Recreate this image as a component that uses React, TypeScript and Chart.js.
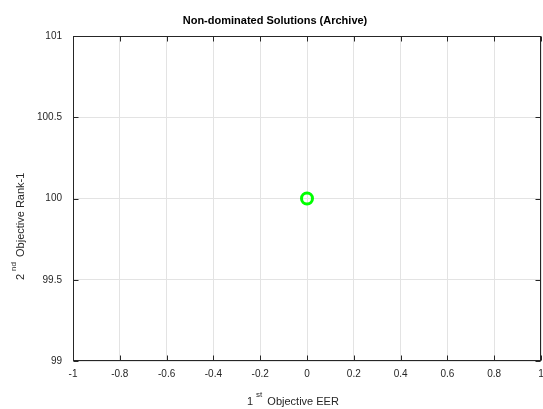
import React, { useEffect, useRef } from "react";
import { Chart, registerables } from "chart.js";

Chart.register(...registerables);

const titleText = "Non-dominated Solutions (Archive)";
const xValues = [0];
const yValues = [100];
const xTickMin = -1;
const xTickMax = 1;
const xTickStep = 0.2;
const yTickMin = 99;
const yTickMax = 101;
const yTickStep = 0.5;

const W = 543;
const H = 409;
const AREA = { left: 73, right: 541, top: 36, bottom: 361 };

const fmt = (v: number) => String(Number(v.toFixed(2)));
const FAMILY = "'Liberation Sans', Arial, sans-serif";

const decorPlugin = {
  id: "decor",
  beforeDraw(chart: any) {
    const ctx = chart.ctx;
    ctx.save();
    ctx.fillStyle = "#ffffff";
    ctx.fillRect(0, 0, chart.width, chart.height);
    ctx.restore();
  },
  afterDraw(chart: any) {
    const ctx = chart.ctx;
    const a = chart.chartArea;
    const xs = chart.scales.x;
    const ys = chart.scales.y;
    ctx.save();
    ctx.strokeStyle = "#262626";
    ctx.lineWidth = 1;
    const L = Math.round(a.left) + 0.5;
    const T = Math.round(a.top) + 0.5;
    const R = Math.round(a.right) - 0.5;
    const B = Math.round(a.bottom) - 0.5;
    ctx.strokeRect(L, T, R - L, B - T);
    const tl = 5;
    ctx.beginPath();
    xs.ticks.forEach((t: any) => {
      const px = Math.round(xs.getPixelForValue(t.value)) + 0.5;
      ctx.moveTo(px, B);
      ctx.lineTo(px, B - tl);
      ctx.moveTo(px, T);
      ctx.lineTo(px, T + tl);
    });
    ys.ticks.forEach((t: any) => {
      const py = Math.round(ys.getPixelForValue(t.value)) + 0.5;
      ctx.moveTo(L, py);
      ctx.lineTo(L + tl, py);
      ctx.moveTo(R, py);
      ctx.lineTo(R - tl, py);
    });
    ctx.stroke();

    // title
    ctx.fillStyle = "#000000";
    ctx.font = "bold 11px " + FAMILY;
    ctx.textAlign = "center";
    ctx.textBaseline = "alphabetic";
    ctx.fillText(titleText, 275, 24);

    const base = "11px " + FAMILY;
    const sup = "8px " + FAMILY;
    ctx.fillStyle = "#262626";
    ctx.textAlign = "left";

    // x label
    let x = 247;
    const by = 405;
    ctx.font = base;
    ctx.fillText("1", x, by);
    x += ctx.measureText("1").width + 3;
    ctx.font = sup;
    ctx.fillText("st", x, by - 8);
    x += ctx.measureText("st").width + 5;
    ctx.font = base;
    ctx.fillText("Objective EER", x, by);

    // y label rotated
    ctx.save();
    ctx.translate(24, 280);
    ctx.rotate(-Math.PI / 2);
    let yx = 0;
    ctx.font = base;
    ctx.fillText("2", yx, 0);
    yx += ctx.measureText("2").width + 3;
    ctx.font = sup;
    ctx.fillText("nd", yx, -8);
    yx += ctx.measureText("nd").width + 5;
    ctx.font = base;
    ctx.fillText("Objective Rank-1", yx, 0);
    ctx.restore();

    ctx.restore();
  },
};

export default function App() {
  const ref = useRef<HTMLCanvasElement | null>(null);
  useEffect(() => {
    document.body.style.margin = "0";
    const canvas = ref.current!;
    const chart = new Chart(canvas, {
      type: "scatter",
      data: {
        datasets: [
          {
            data: xValues.map((x, i) => ({ x, y: yValues[i] })),
            pointStyle: "circle",
            pointRadius: 5.5,
            pointBorderWidth: 3,
            borderColor: "#00ff00",
            backgroundColor: "rgba(0,0,0,0)",
            pointBackgroundColor: "rgba(0,0,0,0)",
            pointBorderColor: "#00ff00",
          },
        ],
      },
      options: {
        animation: false,
        responsive: false,
        devicePixelRatio: 1,
        layout: {
          autoPadding: false,
          padding: { top: AREA.top, right: W - AREA.right, left: 0, bottom: 0 },
        },
        plugins: {
          legend: { display: false },
          title: { display: false },
          tooltip: { enabled: false },
        },
        scales: {
          x: {
            type: "linear",
            min: xTickMin,
            max: xTickMax,
            afterFit: (s: any) => {
              s.height = H - AREA.bottom;
              s.paddingLeft = 0;
              s.paddingRight = 0;
            },
            ticks: {
              stepSize: xTickStep,
              color: "#262626",
              font: { family: FAMILY, size: 10 },
              padding: 7,
              maxRotation: 0,
              autoSkip: false,
              callback: (v: any) => fmt(Number(v)),
            },
            grid: { color: "#e3e3e3", drawTicks: false },
            border: { display: false },
          },
          y: {
            type: "linear",
            min: yTickMin,
            max: yTickMax,
            afterFit: (s: any) => {
              s.width = AREA.left;
              s.paddingTop = 0;
              s.paddingBottom = 0;
            },
            ticks: {
              stepSize: yTickStep,
              color: "#262626",
              font: { family: FAMILY, size: 10 },
              padding: 11,
              autoSkip: false,
              callback: (v: any) => fmt(Number(v)),
            },
            grid: { color: "#e3e3e3", drawTicks: false },
            border: { display: false },
          },
        },
      },
      plugins: [decorPlugin],
    } as any);
    return () => chart.destroy();
  }, []);
  return (
    <div style={{ width: W, height: H }}>
      <canvas ref={ref} width={W} height={H} style={{ display: "block", width: W, height: H }} />
    </div>
  );
}
